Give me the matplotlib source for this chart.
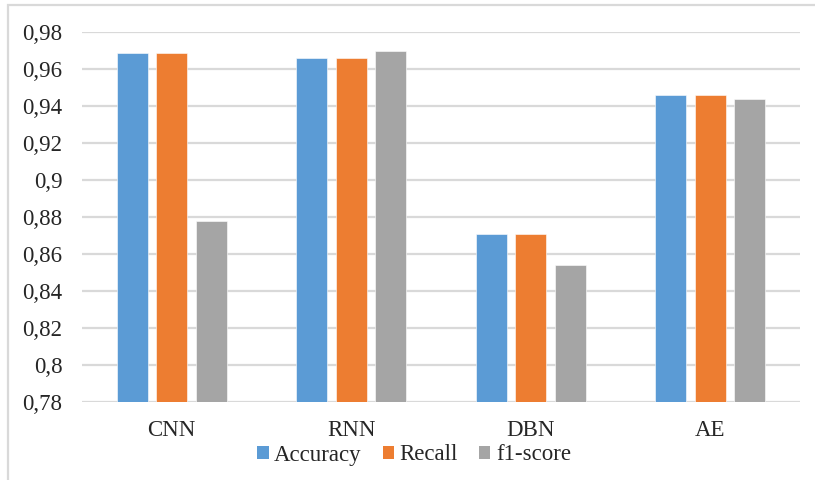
import matplotlib
matplotlib.use("Agg")
import matplotlib.pyplot as plt
from matplotlib.patches import Rectangle, Patch
import numpy as np

# Model comparison data
models = ["CNN", "RNN", "DBN", "AE"]
accuracy = [0.969, 0.966, 0.871, 0.946]
recall = [0.969, 0.966, 0.871, 0.946]
f1_score = [0.878, 0.970, 0.854, 0.944]
series_names = ["Accuracy", "Recall", "f1-score"]
y_ticks = [0.78, 0.80, 0.82, 0.84, 0.86, 0.88, 0.90, 0.92, 0.94, 0.96, 0.98]
y_tick_labels = ["0,78", "0,8", "0,82", "0,84", "0,86", "0,88", "0,9",
                 "0,92", "0,94", "0,96", "0,98"]

colors = ["#5B9BD5", "#ED7D31", "#A5A5A5"]
grid_color = "#D9D9D9"

plt.rcParams["font.family"] = ["Liberation Serif", "DejaVu Serif"]

W, H = 815, 480
fig = plt.figure(figsize=(W / 100, H / 100), dpi=100)
ax = fig.add_axes([82 / W, 1 - 401.7 / H, (800 - 82) / W, (401.7 - 32.3) / H])

x = np.arange(len(models))
width = 0.173
step = 0.22
for i, (vals, c) in enumerate(zip([accuracy, recall, f1_score], colors)):
    ax.bar(x + (i - 1) * step, vals, width=width, color=c, zorder=3,
           edgecolor="white", linewidth=0.4)

ax.set_xlim(-0.5, len(models) - 0.5)
ax.set_ylim(0.78, 0.98)
ax.set_yticks(y_ticks)
ax.set_yticklabels(y_tick_labels)
ax.set_xticks(x)
ax.set_xticklabels(models)
ax.tick_params(axis="both", length=0, labelsize=16.5, colors="#262626")
ax.tick_params(axis="y", pad=14)
ax.tick_params(axis="x", pad=13)
for s in ax.spines.values():
    s.set_visible(False)
ax.yaxis.grid(True, color=grid_color, linewidth=1.6, zorder=0)
ax.set_axisbelow(True)

# Outer chart frame
fig.patches.append(Rectangle((8 / W, -0.1), 1.2, 1 - 5 / H + 0.1,
                             transform=fig.transFigure, fill=False,
                             edgecolor=grid_color, linewidth=1.6))

handles = [Patch(facecolor=c, edgecolor="none") for c in colors]
fig.legend(handles, series_names, loc="center", ncol=3,
           bbox_to_anchor=(414 / W, 1 - 455 / H), frameon=False,
           fontsize=16.5, handlelength=0.5, handleheight=0.5,
           handletextpad=0.25, columnspacing=0.9, labelcolor="#262626")

fig.savefig("out.png", dpi=100)
